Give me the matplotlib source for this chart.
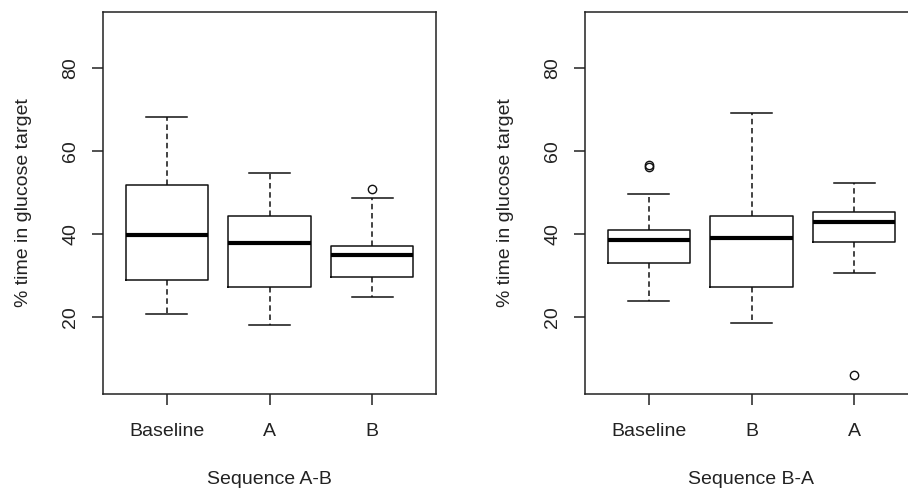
import matplotlib
matplotlib.use("Agg")
import matplotlib.pyplot as plt

plt.rcParams['font.family'] = ['Liberation Sans', 'DejaVu Sans']

# Panel 1: Sequence A-B
cats_ab = ["Baseline", "A", "B"]
whislo_ab = [20.8, 18.1, 24.8]
q1_ab = [29.1, 27.3, 29.7]
med_ab = [39.7, 37.8, 35.1]
q3_ab = [51.8, 44.4, 37.2]
whishi_ab = [68.2, 54.6, 48.7]
fliers_ab = [[], [], [50.9]]

# Panel 2: Sequence B-A
cats_ba = ["Baseline", "B", "A"]
whislo_ba = [23.9, 18.7, 30.6]
q1_ba = [33.2, 27.3, 38.1]
med_ba = [38.5, 39.0, 43.0]
q3_ba = [40.9, 44.4, 45.4]
whishi_ba = [49.7, 69.1, 52.4]
fliers_ba = [[56.2, 56.7], [], [6.2]]

yticks = [20, 40, 60, 80]
ylabel = "% time in glucose target"
xlabels = ["Sequence A-B", "Sequence B-A"]

W, H = 908, 490
fig = plt.figure(figsize=(W / 100, H / 100), dpi=100)

def make_stats(cats, lo, q1, med, q3, hi, fl):
    return [dict(label=c, whislo=a, q1=b, med=m, q3=d, whishi=e, fliers=f)
            for c, a, b, m, d, e, f in zip(cats, lo, q1, med, q3, hi, fl)]

panels = [
    (103, make_stats(cats_ab, whislo_ab, q1_ab, med_ab, q3_ab, whishi_ab, fliers_ab), xlabels[0]),
    (585, make_stats(cats_ba, whislo_ba, q1_ba, med_ba, q3_ba, whishi_ba, fliers_ba), xlabels[1]),
]

for left_px, stats, xl in panels:
    ax = fig.add_axes([left_px / W, (H - 394) / H, 333 / W, 382 / H])
    ax.bxp(stats, positions=[1, 2, 3], widths=0.8,
           boxprops=dict(color='#111111', linewidth=1.1),
           medianprops=dict(color='black', linewidth=3.0, solid_capstyle='butt'),
           whiskerprops=dict(color='#111111', linewidth=1.1, linestyle=(0, (3.6, 2.4))),
           capprops=dict(color='#111111', linewidth=1.1),
           flierprops=dict(marker='o', markerfacecolor='none', markeredgecolor='#111111',
                           markersize=6, markeredgewidth=1.0, linestyle='none'),
           capwidths=0.4)
    ax.set_xlim(0.38, 3.62)
    ax.set_ylim(1.6, 93.4)
    ax.set_yticks(yticks)
    ax.set_yticklabels([str(t) for t in yticks], rotation=90, va='center')
    ax.tick_params(axis='both', length=8, width=1.1, color='#222222',
                   labelsize=14, labelcolor='#222222')
    ax.tick_params(axis='y', pad=9)
    ax.tick_params(axis='x', pad=13)
    for s in ax.spines.values():
        s.set_linewidth(1.1)
        s.set_color('#222222')
    ax.set_xlabel(xl, fontsize=14, color='#222222', labelpad=22)
    ax.set_ylabel(ylabel, fontsize=14, color='#222222', labelpad=22)

fig.savefig("out.png", dpi=100)
